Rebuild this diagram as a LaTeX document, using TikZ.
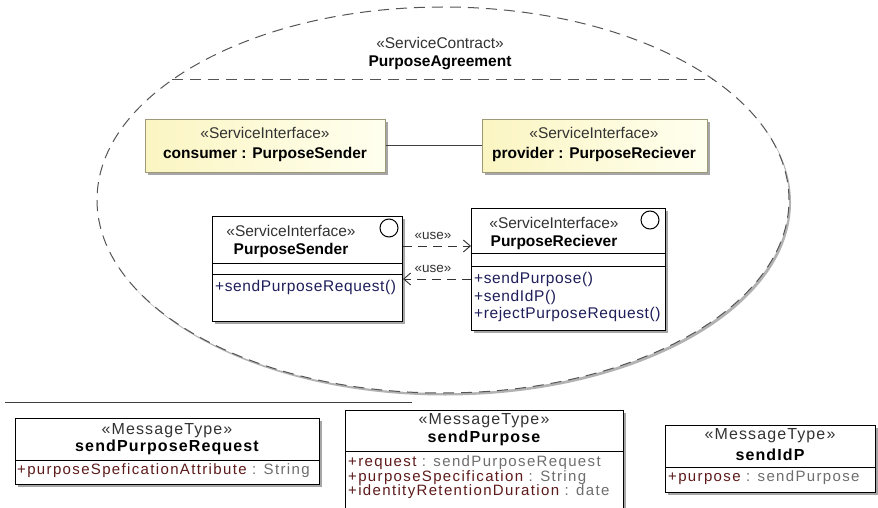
\documentclass[tikz,border=0pt]{standalone}
\usepackage{fontspec}
\setmainfont{Liberation Sans}
\newfontfamily\msgfont[LetterSpace=7]{Liberation Sans}
\newfontfamily\attrfont[LetterSpace=9]{Liberation Sans}
\newfontfamily\opfont[LetterSpace=4]{Liberation Sans}
\usetikzlibrary{shadows,arrows.meta}

\definecolor{ylwL}{HTML}{FBF5C2}
\definecolor{ylwR}{HTML}{FFFFEF}
\definecolor{ybord}{HTML}{9C9A78}
\definecolor{stereo}{HTML}{333333}
\definecolor{opblue}{HTML}{1E1E5A}
\definecolor{attrname}{HTML}{5E1A1A}
\definecolor{attrtype}{HTML}{6E6E6E}
\definecolor{dashgray}{HTML}{555555}

\tikzset{
  shd/.style={drop shadow={shadow xshift=2.5pt, shadow yshift=-2.5pt, fill=black!35, opacity=1}},
  partbox/.style={draw=ybord, line width=1pt, left color=ylwL, right color=ylwR, shd, anchor=north west, inner sep=0pt},
  classbox/.style={draw=black, line width=1pt, fill=white, shd, anchor=north west, inner sep=0pt},
  stxt/.style={font=\fontsize{15.5}{18}\selectfont, text=stereo, inner sep=0pt},
  ntxt/.style={font=\fontsize{15.5}{18}\selectfont\bfseries, inner sep=0pt},
  optxt/.style={font=\opfont\fontsize{15.5}{18}\selectfont, text=opblue, anchor=west, inner sep=0pt},
  mstxt/.style={font=\msgfont\fontsize{16}{18}\selectfont, text=stereo, inner sep=0pt},
  mntxt/.style={font=\msgfont\fontsize{16}{18}\selectfont\bfseries, inner sep=0pt},
  attxt/.style={font=\attrfont\fontsize{15}{17}\selectfont, anchor=west, inner sep=0pt},
  usetxt/.style={font=\fontsize{13.5}{16}\selectfont, text=stereo, inner sep=0pt},
  usearrow/.style={draw=black!80, line width=0.9pt, dash pattern=on 9pt off 6pt,
    -{Straight Barb[length=7pt,width=12pt]}},
  icon/.style={circle, draw, line width=1pt, minimum size=18pt, inner sep=0pt},
  divider/.style={line width=1pt},
}

\begin{document}
\begin{tikzpicture}[x=1pt, y=-1pt]
\useasboundingbox (0,0) rectangle (878,508);
\clip (0,0) rectangle (878,508);

% service contract: shadowed dashed ellipse with its name compartment
\fill[black!30] (445,202.5) ellipse [x radius=346pt, y radius=193pt];
\draw[dashgray, line width=1pt, dash pattern=on 11pt off 7pt, fill=white]
  (443,200) ellipse [x radius=346pt, y radius=193pt];
\draw[dashgray, line width=1pt, dash pattern=on 11pt off 7pt] (172,80) -- (714,80);
\node[stxt] (ctrst) at (440,43) {«ServiceContract»};
\node[ntxt] (ctrnm) at (440,63) {PurposeAgreement};

% contract parts
\node[partbox, minimum width=240pt, minimum height=53pt] (cons) at (145,119) {};
\node[partbox, minimum width=225pt, minimum height=53pt] (prov) at (482,119) {};
\draw[black!75, line width=1pt] (cons.east) -- (prov.west);
\node[stxt] (consst) at (265,133) {«ServiceInterface»};
\node[ntxt] (consnm) at (265,154) {consumer : PurposeSender};
\node[stxt] (provst) at (594,133) {«ServiceInterface»};
\node[ntxt] (provnm) at (594,154) {provider : PurposeReciever};

% service interfaces
\node[classbox, minimum width=190pt, minimum height=105pt] (lcls) at (212,216) {};
\node[classbox, minimum width=194pt, minimum height=122pt] (rcls) at (471,208) {};
\draw[divider] (lcls.west |- 0,263) -- (lcls.east |- 0,263);
\draw[divider] (lcls.west |- 0,274) -- (lcls.east |- 0,274);
\draw[divider] (rcls.west |- 0,253) -- (rcls.east |- 0,253);
\draw[divider] (rcls.west |- 0,266) -- (rcls.east |- 0,266);
\node[icon] (licon) at (389,228) {};
\node[icon] (ricon) at (650,220) {};
\node[stxt] (lst) at (291,231) {«ServiceInterface»};
\node[ntxt] (lnm) at (291,250) {PurposeSender};
\node[optxt] (lop1) at (215,287) {+sendPurposeRequest()};
\node[stxt] (rst) at (554,223) {«ServiceInterface»};
\node[ntxt] (rnm) at (554,242) {PurposeReciever};
\node[optxt] (rop1) at (474,279) {+sendPurpose()};
\node[optxt] (rop2) at (474,297) {+sendIdP()};
\node[optxt] (rop3) at (474,314) {+rejectPurposeRequest()};

% usage dependencies
\draw[usearrow] (lcls.east |- 0,246) -- (rcls.west |- 0,246);
\node[usetxt] (use1) at (433,236) {«use»};
\draw[usearrow] (rcls.west |- 0,279) -- (lcls.east |- 0,279);
\node[usetxt] (use2) at (433,269) {«use»};

% message types
\draw[black!75, line width=1pt] (5,402) -- (412,402);

\node[classbox, minimum width=304pt, minimum height=66pt] (mreq) at (15,418) {};
\draw[divider] (mreq.west |- 0,460) -- (mreq.east |- 0,460);
\node[mstxt] (mreqst) at (167,431) {«MessageType»};
\node[mntxt] (mreqnm) at (167,447) {sendPurposeRequest};
\node[attxt] (mreqa1) at (17,471) {\textcolor{attrname}{+purposeSpeficationAttribute}\textcolor{attrtype}{\ : String}};

\node[classbox, minimum width=278pt, minimum height=110pt] (mpur) at (345,410) {};
\draw[divider] (mpur.west |- 0,451) -- (mpur.east |- 0,451);
\node[mstxt] (mpurst) at (484,421) {«MessageType»};
\node[mntxt] (mpurnm) at (484,438) {sendPurpose};
\node[attxt] (mpura1) at (348,463) {\textcolor{attrname}{+request}\textcolor{attrtype}{\ : sendPurposeRequest}};
\node[attxt] (mpura2) at (348,477.5) {\textcolor{attrname}{+purposeSpecification}\textcolor{attrtype}{\ : String}};
\node[attxt] (mpura3) at (348,492) {\textcolor{attrname}{+identityRetentionDuration}\textcolor{attrtype}{\ : date}};

\node[classbox, minimum width=210pt, minimum height=67pt] (midp) at (665,425) {};
\draw[divider] (midp.west |- 0,467) -- (midp.east |- 0,467);
\node[mstxt] (midpst) at (770,436) {«MessageType»};
\node[mntxt] (midpnm) at (770,455) {sendIdP};
\node[attxt] (midpa1) at (668,478) {\textcolor{attrname}{+purpose}\textcolor{attrtype}{\ : sendPurpose}};
\end{tikzpicture}
\end{document}
